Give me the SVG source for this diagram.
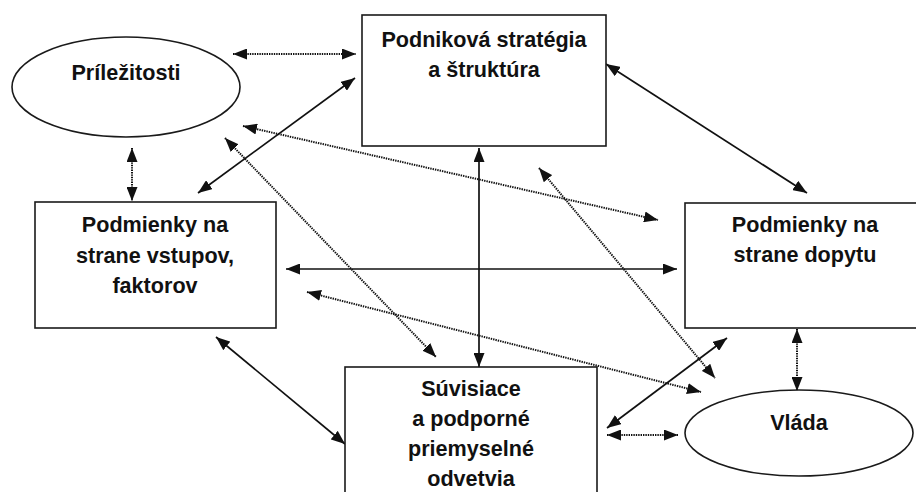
<svg xmlns="http://www.w3.org/2000/svg" width="916" height="492" viewBox="0 0 916 492">
<style>
.box{fill:#fff;stroke:#1a1a1a;stroke-width:1.6}
.lbl{font-family:"Liberation Sans",Arial,sans-serif;font-weight:bold;font-size:21.6px;fill:#111;text-anchor:middle}
.solid{stroke:#111;stroke-width:1.7;fill:none;marker-start:url(#ah);marker-end:url(#ah)}
.dot{stroke:#111;stroke-width:2;stroke-dasharray:1.4 1;fill:none;marker-start:url(#ah);marker-end:url(#ah)}
</style>
<defs>
<marker id="ah" viewBox="0 0 14 11" refX="14" refY="5.5" markerWidth="14" markerHeight="11" markerUnits="userSpaceOnUse" orient="auto-start-reverse">
<path d="M0,0 L14,5.5 L0,11 z" fill="#111"/>
</marker>
</defs>
<rect width="916" height="492" fill="#fff"/>
<g id="connectors">
<line class="dot" x1="233" y1="54" x2="356" y2="54"/>
<line class="solid" x1="198" y1="193" x2="355" y2="78"/>
<line class="dot" x1="243" y1="126" x2="658" y2="220"/>
<line class="dot" x1="225" y1="138" x2="436" y2="357"/>
<line class="dot" x1="132" y1="148" x2="132" y2="201"/>
<line class="solid" x1="606" y1="64" x2="807" y2="193"/>
<line class="solid" x1="479" y1="148" x2="479" y2="367"/>
<line class="dot" x1="539" y1="168" x2="715" y2="378"/>
<line class="solid" x1="286" y1="269" x2="677" y2="269"/>
<line class="dot" x1="307" y1="292" x2="701" y2="392"/>
<line class="solid" x1="216" y1="337" x2="345" y2="444"/>
<line class="solid" x1="727" y1="338" x2="607" y2="428"/>
<line class="dot" x1="797" y1="329" x2="797" y2="391"/>
<line class="dot" x1="607" y1="435" x2="678" y2="435"/>
</g>
<g id="prilezitosti">
<ellipse class="box" cx="126" cy="87" rx="114" ry="50"/>
<text class="lbl" x="126" y="80">Príležitosti</text>
</g>
<g id="strategia">
<rect class="box" x="362" y="15" width="244" height="131"/>
<text class="lbl" x="484" y="47">Podniková stratégia</text>
<text class="lbl" x="484" y="77">a štruktúra</text>
</g>
<g id="vstupy">
<rect class="box" x="35" y="202" width="241" height="126"/>
<text class="lbl" x="155" y="232">Podmienky na</text>
<text class="lbl" x="155" y="263">strane vstupov,</text>
<text class="lbl" x="155" y="293">faktorov</text>
</g>
<g id="dopyt">
<rect class="box" x="685" y="203" width="235" height="125"/>
<text class="lbl" x="805" y="232">Podmienky na</text>
<text class="lbl" x="805" y="262">strane dopytu</text>
</g>
<g id="suvisiace">
<rect class="box" x="345" y="367" width="252" height="140"/>
<text class="lbl" x="471" y="396">Súvisiace</text>
<text class="lbl" x="471" y="426">a podporné</text>
<text class="lbl" x="471" y="456">priemyselné</text>
<text class="lbl" x="471" y="486">odvetvia</text>
</g>
<g id="vlada">
<ellipse class="box" cx="799" cy="433" rx="114" ry="43"/>
<text class="lbl" x="799" y="430">Vláda</text>
</g>
</svg>
